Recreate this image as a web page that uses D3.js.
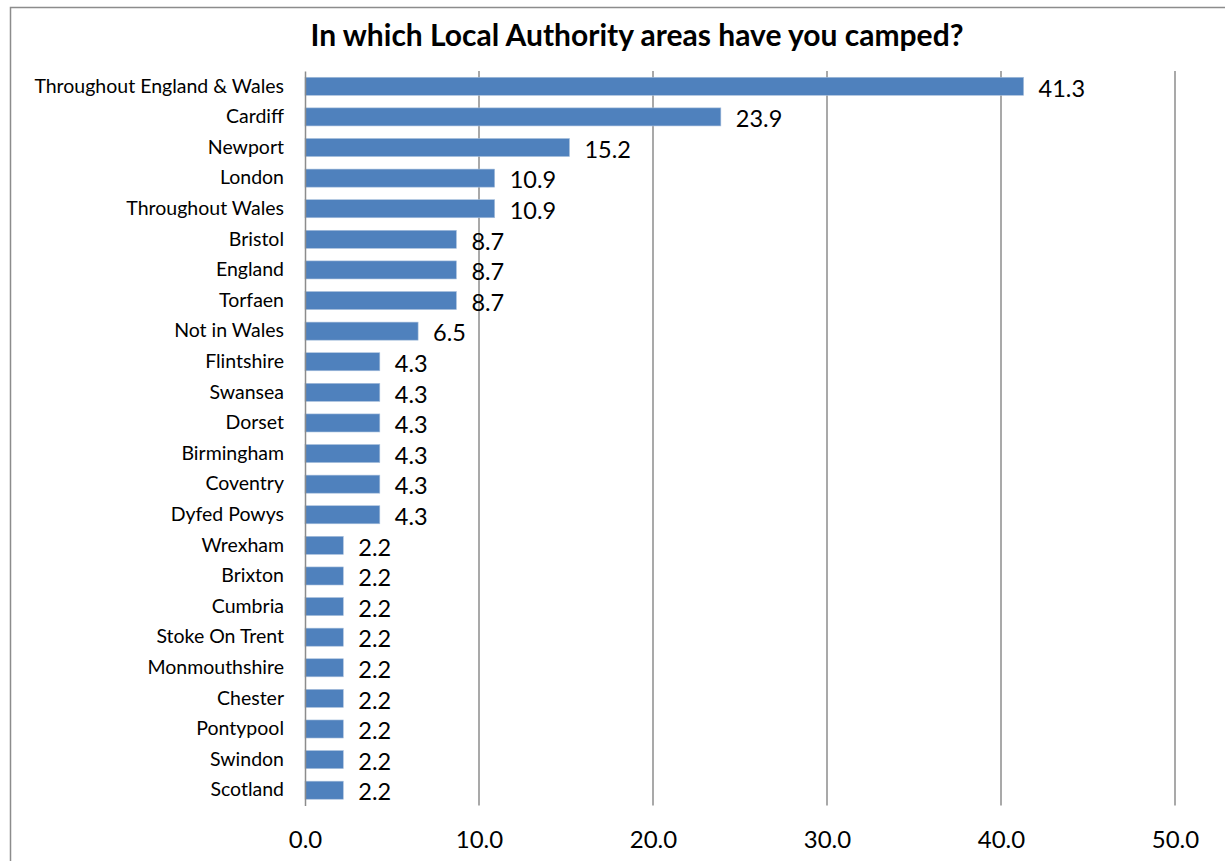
<!DOCTYPE html>
<html>
<head>
<meta charset="utf-8">
<script src="https://cdn.jsdelivr.net/npm/d3@7"></script>
<style>
  body { margin: 0; background: #fff; }
  text { font-family: Lato, "Open Sans", sans-serif; fill: #000; }
</style>
</head>
<body>
<script>
// chart data
const categories = ["Throughout England & Wales", "Cardiff", "Newport", "London", "Throughout Wales",
  "Bristol", "England", "Torfaen", "Not in Wales", "Flintshire", "Swansea", "Dorset", "Birmingham",
  "Coventry", "Dyfed Powys", "Wrexham", "Brixton", "Cumbria", "Stoke On Trent", "Monmouthshire",
  "Chester", "Pontypool", "Swindon", "Scotland"]
const values = [41.3, 23.9, 15.2, 10.9, 10.9, 8.7, 8.7, 8.7, 6.5, 4.3, 4.3, 4.3, 4.3, 4.3, 4.3,
  2.2, 2.2, 2.2, 2.2, 2.2, 2.2, 2.2, 2.2, 2.2]
const xTicks = [0, 10, 20, 30, 40, 50]
const title = "In which Local Authority areas have you camped?"

const svgWidth = 1225
const svgHeight = 861
const margin = {top: 71, right: 50, bottom: 56, left: 305}
const gWidth = 1175 - margin.left
const gHeight = 805.5 - margin.top

const svg = d3.select("body").append("svg")
  .attr("width", svgWidth)
  .attr("height", svgHeight)

// outer frame
svg.append("rect")
  .attr("x", 10.5).attr("y", 7.5)
  .attr("width", 1230).attr("height", 870)
  .attr("fill", "none")
  .attr("stroke", "#8c8c8c")
  .attr("stroke-width", 1.5)

svg.append("text")
  .attr("x", 637).attr("y", 46)
  .attr("text-anchor", "middle")
  .style("font-size", "30px")
  .style("font-weight", "bold")
  .text(title)

const data = categories.map((c, i) => ({name: c, value: values[i]}))

const xScale = d3.scaleLinear().domain([0, 50]).range([0, gWidth])
const yScale = d3.scaleBand().domain(categories).range([0, gHeight]).paddingInner(0.41).paddingOuter(0.205)

const g = svg.append("g").attr("transform", "translate(" + margin.left + "," + margin.top + ")")

// gridlines
g.selectAll(".grid")
  .data(xTicks.slice(1))
  .enter().append("line")
  .attr("x1", d => xScale(d)).attr("x2", d => xScale(d))
  .attr("y1", 0).attr("y2", gHeight)
  .attr("stroke", "#8c8c8c")
  .attr("stroke-width", 1.5)

// bars
g.selectAll(".bar")
  .data(data)
  .enter().append("rect")
  .attr("x", 0)
  .attr("y", d => yScale(d.name))
  .attr("width", d => xScale(d.value))
  .attr("height", yScale.bandwidth())
  .attr("fill", "#4f81bd")
  .attr("stroke", "#a9c0dd")
  .attr("stroke-width", 0.6)

// value labels
g.selectAll(".val")
  .data(data)
  .enter().append("text")
  .attr("x", d => xScale(d.value) + 15)
  .attr("y", d => yScale(d.name) + yScale.bandwidth() / 2 + 2)
  .attr("dy", "0.35em")
  .style("font-size", "23.5px")
  .text(d => d.value.toFixed(1))

// y axis
const yAxis = d3.axisLeft(yScale).tickSize(0).tickPadding(21)
const ya = g.append("g").call(yAxis)
ya.select(".domain").attr("stroke", "#8c8c8c").attr("stroke-width", 1.5)
ya.selectAll("text").style("font-size", "19.5px").style("font-family", "Lato, sans-serif")

// x axis
const xAxis = d3.axisBottom(xScale).tickValues(xTicks).tickSize(0).tickPadding(25).tickFormat(d3.format(".1f"))
const xa = g.append("g").attr("transform", "translate(0," + gHeight + ")").call(xAxis)
xa.select(".domain").remove()
xa.selectAll("text").style("font-size", "24px").style("font-family", "Lato, sans-serif")
</script>
</body>
</html>
